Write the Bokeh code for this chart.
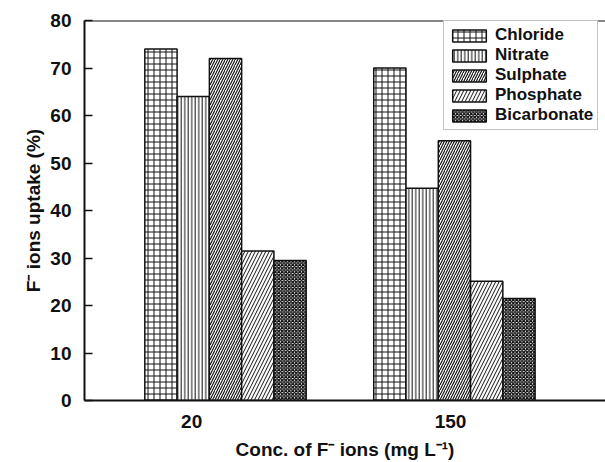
from bokeh.plotting import figure
from bokeh.models import Range1d, FixedTicker, Legend, LegendItem, ColumnDataSource, Span
from bokeh.embed import file_html
from bokeh.resources import INLINE

groups = ["20", "150"]
series = ["Chloride", "Nitrate", "Sulphate", "Phosphate", "Bicarbonate"]
values_20 = [74, 64, 72, 31.5, 29.5]
values_150 = [70, 44.7, 54.7, 25.1, 21.5]
y_ticks = [0, 10, 20, 30, 40, 50, 60, 70, 80]

patterns = ["+", "|", "/", "/", "x"]
scales = [6, 3.5, 5, 7, 3.5]
weights = [1.0, 1.0, 1.15, 1.0, 1.4]

FONT = "Liberation Sans"
INK = "#111111"
bar_w = 0.141
group_x = [0, 1]
label_x = [-0.148, 0.983]

p = figure(width=605, height=462, output_backend="svg", toolbar_location=None,
           x_range=Range1d(-0.616, 1.66), y_range=Range1d(y_ticks[0], y_ticks[-1]),
           min_border_left=84, min_border_top=20, min_border_right=0, min_border_bottom=62)
p.outline_line_color = None
p.xgrid.visible = False
p.ygrid.visible = False
p.background_fill_color = "white"

items = []
for i, name in enumerate(series):
    xs = [g + (i - 2) * bar_w for g in group_x]
    tops = [values_20[i], values_150[i]]
    src = ColumnDataSource(dict(x=xs, top=tops))
    r = p.vbar(x="x", top="top", width=bar_w, source=src, fill_color="white",
               line_color=INK, line_width=1.5,
               hatch_pattern=patterns[i], hatch_scale=scales[i],
               hatch_weight=weights[i], hatch_color=INK)
    items.append(LegendItem(label=name, renderers=[r]))

legend = Legend(items=items, location=(359, 270), orientation="vertical",
                glyph_width=42, glyph_height=15, label_height=20, spacing=0,
                padding=4, margin=0, label_standoff=5,
                label_text_font=FONT, label_text_font_style="bold",
                label_text_font_size="17px", label_text_color=INK,
                border_line_color="#888888", border_line_width=1,
                background_fill_color="white", background_fill_alpha=1)
p.add_layout(legend, "center")

# top frame line (at the top of the value range)
p.add_layout(Span(location=y_ticks[-1], dimension="width", line_color=INK, line_width=2))

# y axis
ya = p.yaxis[0]
ya.ticker = FixedTicker(ticks=y_ticks)
ya.major_tick_in = 8
ya.major_tick_out = 0
ya.minor_tick_line_color = None
ya.axis_line_width = 2
ya.axis_line_color = INK
ya.major_tick_line_width = 1.5
ya.major_tick_line_color = INK
ya.major_label_text_font = FONT
ya.major_label_text_font_style = "bold"
ya.major_label_text_font_size = "19px"
ya.major_label_text_color = INK
ya.major_label_standoff = 13
ya.axis_label = "F\u207b ions uptake (%)"
ya.axis_label_text_font = FONT
ya.axis_label_text_font_style = "bold"
ya.axis_label_text_font_size = "19px"
ya.axis_label_text_color = INK
ya.axis_label_standoff = 3

# x axis
xa = p.xaxis[0]
xa.ticker = FixedTicker(ticks=label_x)
xa.major_label_overrides = {label_x[0]: groups[0], label_x[1]: groups[1]}
xa.major_tick_line_color = None
xa.minor_tick_line_color = None
xa.axis_line_width = 2
xa.axis_line_color = INK
xa.major_label_text_font = FONT
xa.major_label_text_font_style = "bold"
xa.major_label_text_font_size = "19px"
xa.major_label_text_color = INK
xa.major_label_standoff = 8
xa.axis_label = "Conc. of F\u207b ions (mg L\u207b\u00b9)"
xa.axis_label_text_font = FONT
xa.axis_label_text_font_style = "bold"
xa.axis_label_text_font_size = "19px"
xa.axis_label_text_color = INK
xa.axis_label_standoff = 8

open("out.html", "w").write(file_html(p, INLINE))
